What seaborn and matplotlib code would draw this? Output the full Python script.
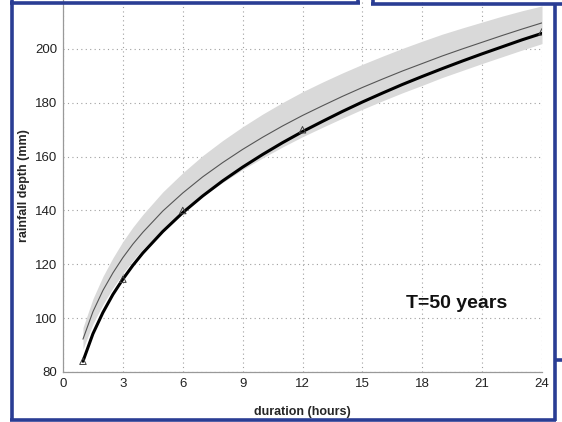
import numpy as np
import pandas as pd
import matplotlib
matplotlib.use("Agg")
import matplotlib.pyplot as plt
from matplotlib.lines import Line2D
import seaborn as sns

# Durations (hours) at which the curves are tabulated
duration = [1, 1.5, 2, 2.5, 3, 3.5, 4, 5, 6, 7, 8, 9, 10, 11, 12,
            13, 14, 15, 16, 17, 18, 19, 20, 21, 22, 23, 24]
# Fitted depth-duration curve (thin line) and its confidence band
fitted_depth = [92.2, 102.4, 110.3, 116.8, 122.5, 127.5, 131.9, 139.8, 146.5,
                152.5, 157.8, 162.7, 167.2, 171.4, 175.3, 178.9, 182.4, 185.7,
                188.8, 191.8, 194.6, 197.4, 200.0, 202.5, 205.0, 207.4, 209.7]
band_upper = [96.5, 107.2, 115.5, 122.4, 128.5, 133.8, 138.5, 146.9, 154.0,
              160.4, 166.0, 171.1, 175.8, 180.1, 184.1, 187.7, 191.1, 194.3,
              197.3, 200.2, 202.9, 205.5, 207.8, 210.0, 212.2, 214.2, 216.0]
band_lower = [88.5, 97.9, 105.1, 111.2, 116.6, 121.4, 125.6, 133.1, 139.5,
              145.3, 150.4, 155.2, 159.5, 163.6, 167.4, 170.9, 174.3, 177.6,
              180.7, 183.7, 186.5, 189.4, 192.0, 194.6, 197.1, 199.6, 202.0]
# Reference depth-duration curve (thick line)
reference_depth = [84.0, 94.2, 102.1, 108.8, 114.5, 119.6, 124.2, 132.2, 139.2,
                   145.4, 151.0, 156.1, 160.8, 165.2, 169.3, 173.1, 176.8, 180.3,
                   183.6, 186.8, 189.8, 192.7, 195.5, 198.2, 200.8, 203.4, 205.8]
# Observed points (triangles)
obs_duration = [1, 3, 6, 12, 24]
obs_depth = [84.0, 114.5, 140.0, 170.0, 206.4]

x_ticks = [0, 3, 6, 9, 12, 15, 18, 21, 24]
y_ticks = [80, 100, 120, 140, 160, 180, 200]

sns.set_style("white")
plt.rcParams["font.family"] = ["Liberation Sans", "DejaVu Sans"]

W, H = 562, 422
fig = plt.figure(figsize=(W / 100, H / 100), dpi=100)
ax = fig.add_axes([63 / W, (H - 372) / H, (542 - 63) / W, 372 / H])

curves = pd.DataFrame({"duration": duration, "fitted": fitted_depth,
                       "lower": band_lower, "upper": band_upper,
                       "reference": reference_depth})
obs = pd.DataFrame({"duration": obs_duration, "depth": obs_depth})

ax.fill_between(curves["duration"], curves["lower"], curves["upper"],
                color="#d9d9d9", linewidth=0, zorder=1)
sns.lineplot(data=curves, x="duration", y="fitted", ax=ax, color="#555555",
             linewidth=0.8, zorder=2)
sns.lineplot(data=curves, x="duration", y="reference", ax=ax, color="black",
             linewidth=2.2, zorder=3)
sns.scatterplot(data=obs, x="duration", y="depth", ax=ax, marker="^", s=22,
                facecolor="none", edgecolor="#444444", linewidth=0.7, zorder=4)

ax.set_xlim(0, 24)
ax.set_ylim(80, 218.2)
ax.set_xticks(x_ticks)
ax.set_yticks(y_ticks)
ax.set_xticklabels([str(v) for v in x_ticks])
ax.set_yticklabels([str(v) for v in y_ticks])
ax.grid(True, linestyle=(0, (1, 3)), color="#a0a0a0", linewidth=0.8)
ax.set_axisbelow(True)
for side in ["top", "right"]:
    ax.spines[side].set_visible(False)
for side in ["left", "bottom"]:
    ax.spines[side].set_color("#999999")
    ax.spines[side].set_linewidth(0.9)
ax.tick_params(direction="in", length=4, width=0.8, color="#999999",
               labelsize=9.5, labelcolor="#222222", pad=4)

ax.set_xlabel("duration (hours)", fontsize=9, fontweight="bold", labelpad=12)
ax.set_ylabel("rainfall depth (mm)", fontsize=9, fontweight="bold", labelpad=4)

ax.text(17.2, 105.6, "T=50 years", fontsize=14, fontweight="bold",
        va="center", ha="left", color="#111111")

# Blue slide frame around the chart
blue = "#2a3d94"
lw = 2.6

def frame(xs, ys):
    fig.add_artist(Line2D([x / W for x in xs], [1 - y / H for y in ys],
                          transform=fig.transFigure, color=blue,
                          linewidth=lw, solid_capstyle="butt"))

frame([11.5, 11.5], [0, 421])
frame([10, 359.5], [2.5, 2.5])
frame([358, 358], [0, 4])
frame([371, 562], [3.5, 3.5])
frame([372.5, 372.5], [0, 5])
frame([554.5, 554.5], [3, 421])
frame([10, 556], [419.5, 419.5])
frame([556, 562], [359.5, 359.5])

fig.savefig("out.png", dpi=100)
